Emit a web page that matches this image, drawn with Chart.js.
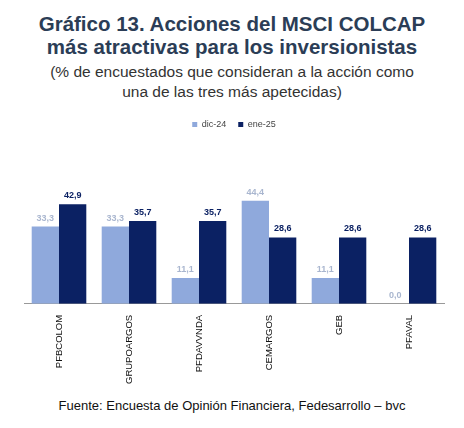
<!DOCTYPE html>
<html><head><meta charset="utf-8">
<script src="https://cdn.jsdelivr.net/npm/chart.js@4"></script>
<style>
body{margin:0;width:464px;height:428px;background:#fff;font-family:"Liberation Sans",Arial,sans-serif;}
.t{position:absolute;left:0;width:464px;text-align:center;}
#title{top:12px;font-size:20.5px;font-weight:bold;color:#2b3d56;line-height:23px;}
#sub{top:62px;font-size:15.5px;color:#333;line-height:20px;}
#foot{top:398px;font-size:13px;color:#111;}
#wrap{position:absolute;left:10px;top:108px;width:444px;height:279px;}
</style></head><body>
<div class="t" id="title">Gráfico 13. Acciones del MSCI COLCAP<br>más atractivas para los inversionistas</div>
<div class="t" id="sub">(% de encuestados que consideran a la acción como<br>una de las tres más apetecidas)</div>
<div id="wrap"><canvas id="c"></canvas></div>
<div class="t" id="foot">Fuente: Encuesta de Opinión Financiera, Fedesarrollo – bvc</div>
<script>
const categories = ['PFBCOLOM', 'GRUPOARGOS', 'PFDAVVNDA', 'CEMARGOS', 'GEB', 'PFAVAL'];
const dic24 = [33.3, 33.3, 11.1, 44.4, 11.1, 0.0];
const ene25 = [42.9, 35.7, 35.7, 28.6, 28.6, 28.6];
const seriesNames = ['dic-24', 'ene-25'];
const colors = ['#8fa9dc', '#0b2163'];

const valueLabels = {
  id: 'valueLabels',
  afterDatasetsDraw(chart) {
    const ctx = chart.ctx;
    ctx.save();
    ctx.font = 'bold 9px "Liberation Sans", Arial, sans-serif';
    ctx.textAlign = 'center';
    ctx.textBaseline = 'bottom';
    chart.data.datasets.forEach((ds, i) => {
      ctx.fillStyle = i === 0 ? '#a9b6cf' : '#0b2163';
      chart.getDatasetMeta(i).data.forEach((bar, j) => {
        ctx.fillText(ds.data[j].toFixed(1).replace('.', ','), bar.x, bar.y - 4);
      });
    });
    ctx.restore();
  }
};

new Chart(document.getElementById('c'), {
  type: 'bar',
  data: {
    labels: categories,
    datasets: [
      { label: seriesNames[0], data: dic24, backgroundColor: colors[0] },
      { label: seriesNames[1], data: ene25, backgroundColor: colors[1] }
    ]
  },
  options: {
    responsive: true,
    maintainAspectRatio: false,
    animation: false,
    categoryPercentage: 0.78,
    barPercentage: 1,
    layout: { padding: { left: 14, right: 10 } },
    plugins: {
      legend: {
        position: 'top',
        labels: { boxWidth: 5, boxHeight: 5, font: { size: 9 }, color: '#444', padding: 12 }
      },
      tooltip: { enabled: false }
    },
    scales: {
      y: { display: false, min: 0, max: 71 },
      x: {
        grid: { display: false },
        border: { color: '#999' },
        ticks: { maxRotation: 90, minRotation: 90, font: { size: 9.5 }, color: '#111' }
      }
    }
  },
  plugins: [valueLabels]
});
</script>
</body></html>
